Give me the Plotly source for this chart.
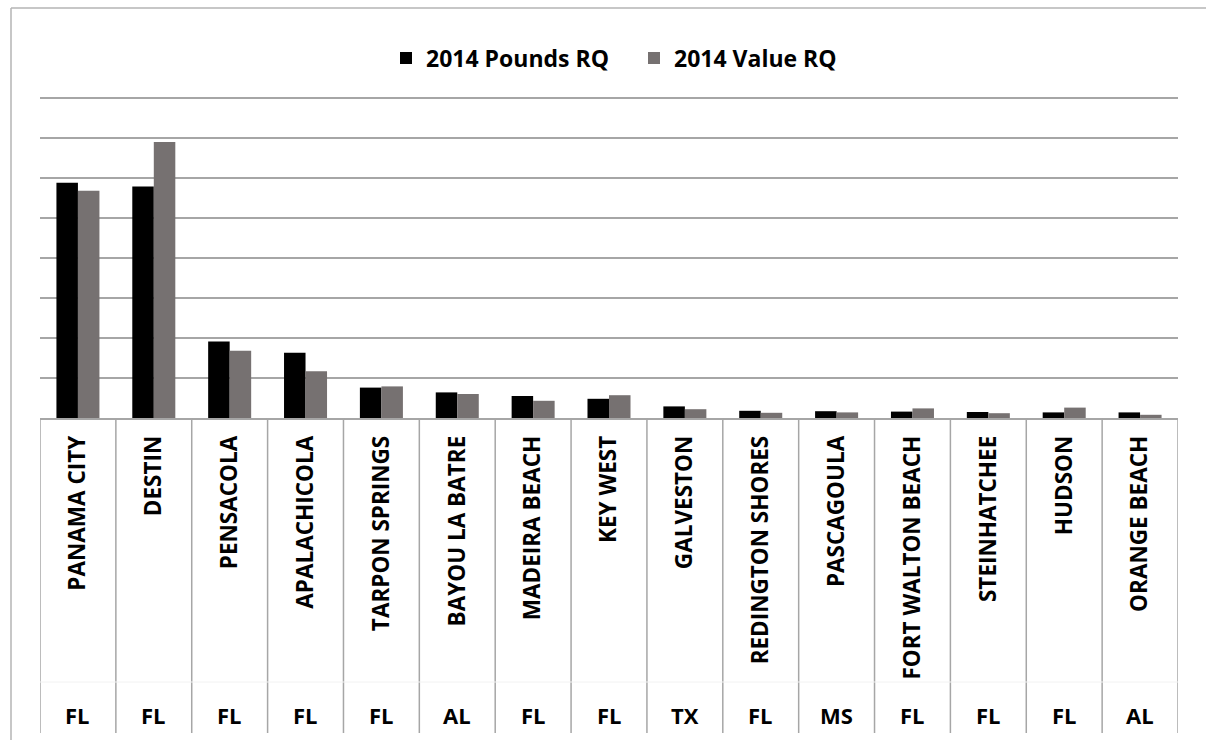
import plotly.graph_objects as go

cities = ["PANAMA CITY", "DESTIN", "PENSACOLA", "APALACHICOLA", "TARPON SPRINGS",
          "BAYOU LA BATRE", "MADEIRA BEACH", "KEY WEST", "GALVESTON", "REDINGTON SHORES",
          "PASCAGOULA", "FORT WALTON BEACH", "STEINHATCHEE", "HUDSON", "ORANGE BEACH"]
states = ["FL", "FL", "FL", "FL", "FL", "AL", "FL", "FL", "TX", "FL", "MS", "FL", "FL", "FL", "AL"]
pounds_rq = [5.88, 5.79, 1.91, 1.63, 0.76, 0.64, 0.55, 0.48, 0.29, 0.18, 0.17, 0.16, 0.15, 0.14, 0.14]
value_rq = [5.68, 6.90, 1.68, 1.17, 0.79, 0.60, 0.43, 0.57, 0.22, 0.13, 0.14, 0.24, 0.12, 0.26, 0.08]

FONT = "Open Sans"
W, H = 1206, 740
YMAX = 8.05
ML, MR, MB = 40, 28, 322
PH = 320 * YMAX / 8
MT = H - MB - PH
PW = W - ML - MR


def py(pix):  # pixel y -> paper y
    return (H - MB - pix) / PH


def px(pix):
    return (pix - ML) / PW


fig = go.Figure()
fig.add_trace(go.Bar(x=cities, y=pounds_rq, name="2014 Pounds RQ", marker_color="#000000",
                     marker_line_width=0))
fig.add_trace(go.Bar(x=cities, y=value_rq, name="2014 Value RQ", marker_color="#767171",
                     marker_line_width=0))

shapes = []
gray = "#a6a6a6"
n = len(cities)
for k in range(n + 1):
    shapes.append(dict(type="line", xref="x", yref="paper", x0=k - 0.5, x1=k - 0.5,
                       y0=0, y1=py(733), line=dict(color=gray, width=1.5), layer="above"))
# faint divider between city and state rows
shapes.append(dict(type="line", xref="paper", yref="paper", x0=0, x1=1, y0=py(682), y1=py(682),
                   line=dict(color="#f2f2f2", width=1)))
# outer chart border (left and top)
shapes.append(dict(type="line", xref="paper", yref="paper", x0=px(11), x1=px(11), y0=py(8), y1=py(745),
                   line=dict(color="#b4b4b4", width=1.5)))
shapes.append(dict(type="line", xref="paper", yref="paper", x0=px(11), x1=px(1210), y0=py(8), y1=py(8),
                   line=dict(color="#b4b4b4", width=1.5)))

annotations = []
for c, s in zip(cities, states):
    annotations.append(dict(x=c, xref="x", yref="paper", y=py(715), text=s, showarrow=False,
                            xanchor="center", yanchor="middle",
                            font=dict(family=FONT, size=22, color="#000000", weight="bold")))

fig.update_layout(
    width=W, height=H, autosize=False,
    margin=dict(l=ML, r=MR, t=MT, b=MB),
    paper_bgcolor="white", plot_bgcolor="white",
    barmode="group", bargap=0.433, bargroupgap=0,
    shapes=shapes, annotations=annotations,
    legend=dict(orientation="h", x=px(634), xanchor="center", y=py(58), yanchor="middle",
                font=dict(family=FONT, size=23, color="#000000", weight="bold"),
                entrywidth=203, entrywidthmode="pixels",
                itemclick=False, traceorder="normal"),
    xaxis=dict(tickangle=-90, showgrid=False, showline=True, linecolor=gray, linewidth=1.5,
               ticks="", ticklabelstandoff=7,
               tickfont=dict(family=FONT, size=22.5, color="#000000", weight="bold"),
               range=[-0.5, n - 0.5]),
    yaxis=dict(range=[0, YMAX], dtick=1, showticklabels=False, showgrid=True, gridcolor=gray,
               gridwidth=1.5, zeroline=False, showline=False, ticks=""),
)

fig.write_html("out.html", config={"displayModeBar": False},
               post_script="document.body.style.margin='0';document.body.style.overflow='hidden';")
